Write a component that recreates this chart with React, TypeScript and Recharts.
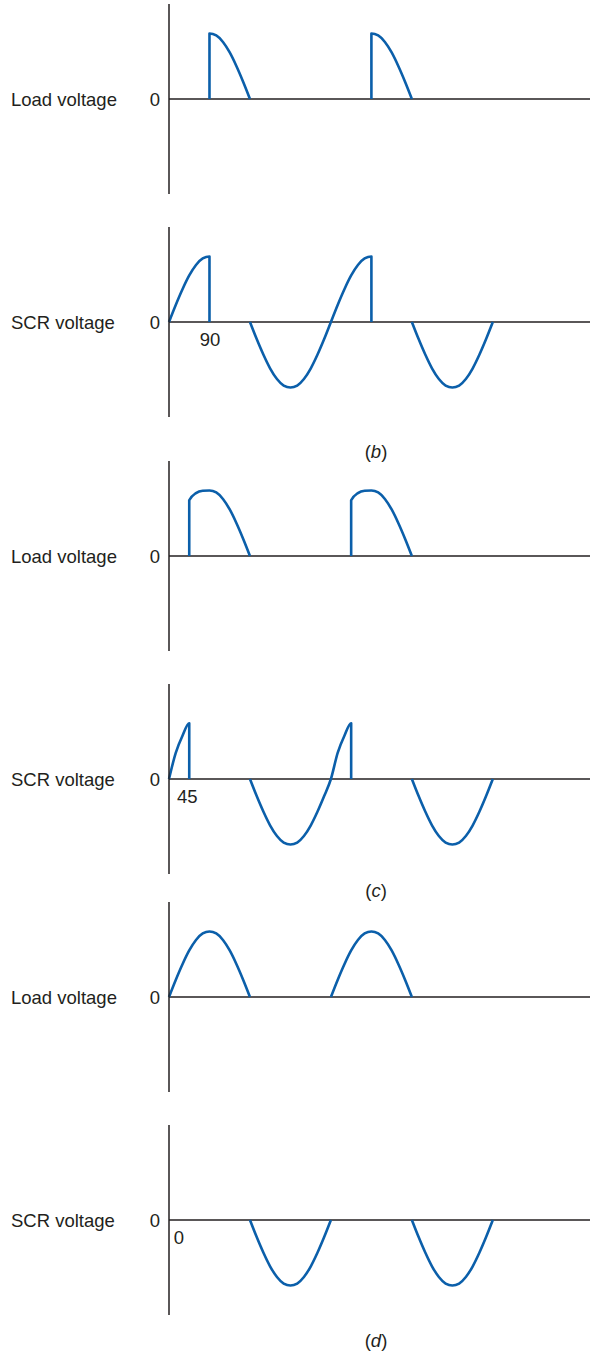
import { LineChart, Line, XAxis, YAxis, ReferenceLine, ReferenceDot } from 'recharts'

const STEP = 15
const riseTo90 = [0, 0.26, 0.5, 0.71, 0.87, 0.97, 1]
const fallFrom90 = [1, 0.97, 0.87, 0.71, 0.5, 0.26, 0]
const halfWave = [0, 0.26, 0.5, 0.71, 0.87, 0.97, 1, 0.97, 0.87, 0.71, 0.5, 0.26, 0]
const dip = [0, -0.26, -0.5, -0.71, -0.87, -0.97, -1, -0.97, -0.87, -0.71, -0.5, -0.26, 0]
const riseTo45 = [0, 0.4, 0.66, 0.85]
const fallFrom45 = [0.85, 0.96, 0.995, 1, 0.97, 0.87, 0.71, 0.5, 0.26, 0]

type Seg = { at: number; values: number[]; jumpIn?: boolean; dropOut?: boolean }

const loadB: Seg[] = [
  { at: 90, values: fallFrom90, jumpIn: true },
  { at: 450, values: fallFrom90, jumpIn: true },
]
const scrB: Seg[] = [
  { at: 0, values: riseTo90, dropOut: true },
  { at: 180, values: dip },
  { at: 360, values: riseTo90, dropOut: true },
  { at: 540, values: dip },
]
const loadC: Seg[] = [
  { at: 45, values: fallFrom45, jumpIn: true },
  { at: 405, values: fallFrom45, jumpIn: true },
]
const scrC: Seg[] = [
  { at: 0, values: riseTo45, dropOut: true },
  { at: 180, values: dip },
  { at: 360, values: riseTo45, dropOut: true },
  { at: 540, values: dip },
]
const loadD: Seg[] = [
  { at: 0, values: halfWave },
  { at: 360, values: halfWave },
]
const scrD: Seg[] = [
  { at: 180, values: dip },
  { at: 540, values: dip },
]

const markB = { deg: 90, text: '90' }
const markC = { deg: 45, text: '45' }
const markD = { deg: 0, text: '0' }

const captions = ['b', 'c', 'd']

const BLUE = '#0b5faa'
const INK = '#231f20'
const FONT = '"Liberation Sans", Arial, Helvetica, sans-serif'
const FS = 18.5

function toPoints(segs: Seg[]) {
  const pts: { deg: number; v: number | null }[] = []
  segs.forEach((s) => {
    const last = pts[pts.length - 1]
    if (last && last.deg < s.at) pts.push({ deg: (last.deg + s.at) / 2, v: null })
    if (s.jumpIn) pts.push({ deg: s.at, v: 0 })
    s.values.forEach((v, i) => pts.push({ deg: s.at + i * STEP, v }))
    if (s.dropOut) pts.push({ deg: s.at + (s.values.length - 1) * STEP, v: 0 })
  })
  return pts
}

type Mark = { deg: number; text: string }

function Wave({ top, label, segs, mark }: { top: number; label: string; segs: Seg[]; mark?: Mark }) {
  const nudge = mark ? (mark.deg === 0 ? 10 : mark.deg === 45 ? -2 : 0.5) : 0
  return (
    <div style={{ position: 'absolute', left: 0, top }}>
      <LineChart width={590} height={190} data={toPoints(segs)} margin={{ top: 0, right: 0, bottom: 0, left: 0 }}>
        <XAxis dataKey="deg" type="number" domain={[0, 936]} hide />
        <YAxis
          type="number"
          domain={[-1.45, 1.45]}
          ticks={[0]}
          width={169}
          tickLine={false}
          tickMargin={3}
          axisLine={{ stroke: INK, strokeWidth: 1.5 }}
          tick={{ fill: INK, fontSize: FS, fontFamily: FONT }}
          label={{ value: label, position: 'insideLeft', offset: 11, fill: INK, fontSize: FS, fontFamily: FONT }}
        />
        <ReferenceLine y={0} stroke={INK} strokeWidth={1.5} />
        <Line
          dataKey="v"
          type="monotoneX"
          stroke={BLUE}
          strokeWidth={2.6}
          dot={false}
          isAnimationActive={false}
          strokeLinejoin="round"
        />
        {mark && (
          <ReferenceDot
            x={mark.deg}
            y={0}
            r={1}
            fill="none"
            stroke="none"
            label={{ value: mark.text, position: 'bottom', offset: 9.5, dx: nudge, fill: INK, fontSize: FS, fontFamily: FONT }}
          />
        )}
      </LineChart>
    </div>
  )
}

function Caption({ letter, centerY }: { letter: string; centerY: number }) {
  return (
    <div
      style={{
        position: 'absolute',
        left: 376,
        top: centerY - 11,
        transform: 'translateX(-50%)',
        fontFamily: FONT,
        fontSize: FS,
        lineHeight: '22px',
        color: INK,
      }}
    >
      (<i>{letter}</i>)
    </div>
  )
}

export default function App() {
  return (
    <div style={{ position: 'absolute', left: 0, top: 0, width: 598, height: 1353, background: '#fff' }}>
      <Wave top={4} label="Load voltage" segs={loadB} />
      <Wave top={227} label="SCR voltage" segs={scrB} mark={markB} />
      <Caption letter={captions[0]} centerY={452} />
      <Wave top={461} label="Load voltage" segs={loadC} />
      <Wave top={684} label="SCR voltage" segs={scrC} mark={markC} />
      <Caption letter={captions[1]} centerY={891} />
      <Wave top={902} label="Load voltage" segs={loadD} />
      <Wave top={1125} label="SCR voltage" segs={scrD} mark={markD} />
      <Caption letter={captions[2]} centerY={1341} />
    </div>
  )
}
